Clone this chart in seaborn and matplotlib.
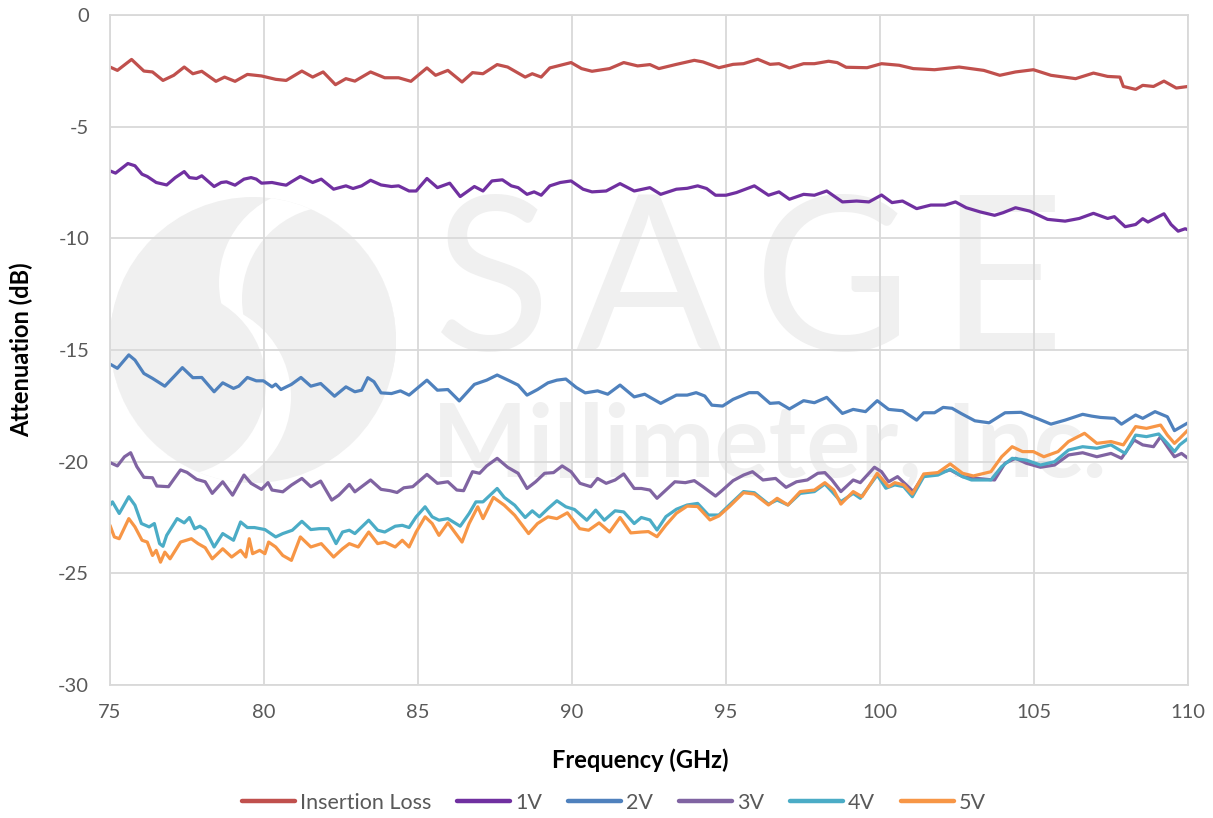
import matplotlib
matplotlib.use("Agg")
import matplotlib.pyplot as plt
import seaborn as sns
import pandas as pd
from matplotlib.patches import Circle
from matplotlib.ticker import MultipleLocator

# ---------------- data ----------------
series_names = ["Insertion Loss", "1V", "2V", "3V", "4V", "5V"]
series_colors = ["#C0504D", "#7030A0", "#4F81BD", "#8064A2", "#4BACC6", "#F79646"]
x_ticks = [75, 80, 85, 90, 95, 100, 105, 110]
y_ticks = [0, -5, -10, -15, -20, -25, -30]
x_label = "Frequency (GHz)"
y_label = "Attenuation (dB)"

insertion_loss = [
    (75.0, -2.33), (75.24, -2.48), (75.70, -1.99), (76.10, -2.51), (76.38, -2.55), (76.72, -2.93),
    (77.07, -2.70), (77.41, -2.33), (77.69, -2.63), (77.98, -2.52), (78.44, -2.97), (78.72, -2.78),
    (79.06, -2.97), (79.46, -2.66), (79.92, -2.73), (80.38, -2.88), (80.72, -2.93), (81.23, -2.51),
    (81.58, -2.78), (81.92, -2.55), (82.32, -3.12), (82.66, -2.85), (82.95, -2.96), (83.46, -2.55),
    (83.92, -2.81), (84.37, -2.81), (84.77, -2.97), (85.29, -2.37), (85.57, -2.70), (85.97, -2.48),
    (86.43, -3.00), (86.77, -2.58), (87.11, -2.63), (87.57, -2.22), (87.91, -2.33), (88.48, -2.78),
    (88.71, -2.63), (89.00, -2.78), (89.28, -2.37), (89.97, -2.13), (90.31, -2.40), (90.65, -2.52),
    (91.22, -2.40), (91.68, -2.13), (92.13, -2.28), (92.53, -2.22), (92.82, -2.40), (93.39, -2.21),
    (93.97, -2.03), (94.25, -2.10), (94.77, -2.36), (95.23, -2.21), (95.57, -2.18), (96.03, -1.98),
    (96.43, -2.21), (96.72, -2.18), (97.06, -2.37), (97.52, -2.18), (97.87, -2.18), (98.33, -2.07),
    (98.61, -2.13), (98.90, -2.34), (99.58, -2.36), (100.05, -2.18), (100.62, -2.25), (101.08, -2.40),
    (101.77, -2.45), (102.57, -2.33), (103.37, -2.48), (103.89, -2.70), (104.40, -2.55), (104.98, -2.45),
    (105.55, -2.70), (106.35, -2.85), (106.93, -2.60), (107.39, -2.75), (107.79, -2.78), (107.90, -3.20),
    (108.30, -3.33), (108.53, -3.15), (108.88, -3.20), (109.22, -2.96), (109.62, -3.27), (110.0, -3.20),
]

bias_1v = [
    (75.0, -6.98), (75.18, -7.08), (75.58, -6.65), (75.81, -6.75), (76.04, -7.13), (76.21, -7.23),
    (76.50, -7.50), (76.84, -7.61), (77.12, -7.28), (77.41, -7.01), (77.58, -7.28), (77.81, -7.32),
    (77.98, -7.20), (78.38, -7.68), (78.61, -7.50), (78.78, -7.47), (79.06, -7.62), (79.35, -7.35),
    (79.58, -7.28), (79.75, -7.35), (79.92, -7.53), (80.26, -7.50), (80.55, -7.58), (80.72, -7.62),
    (80.89, -7.47), (81.18, -7.23), (81.58, -7.50), (81.86, -7.35), (82.26, -7.80), (82.66, -7.65),
    (82.89, -7.77), (83.17, -7.65), (83.46, -7.40), (83.80, -7.61), (84.14, -7.68), (84.37, -7.65),
    (84.71, -7.88), (84.94, -7.88), (85.29, -7.32), (85.63, -7.73), (86.03, -7.53), (86.37, -8.13),
    (86.83, -7.68), (87.11, -7.88), (87.40, -7.43), (87.74, -7.38), (88.03, -7.65), (88.25, -7.73),
    (88.54, -8.03), (88.77, -7.92), (89.00, -8.07), (89.28, -7.65), (89.62, -7.50), (89.97, -7.43),
    (90.36, -7.80), (90.65, -7.92), (91.11, -7.88), (91.56, -7.55), (92.02, -7.88), (92.53, -7.73),
    (92.88, -8.03), (93.39, -7.80), (93.74, -7.76), (94.08, -7.65), (94.37, -7.77), (94.66, -8.07),
    (95.00, -8.07), (95.34, -7.95), (95.92, -7.65), (96.38, -8.07), (96.72, -7.92), (97.06, -8.25),
    (97.52, -8.03), (97.87, -8.07), (98.27, -7.88), (98.78, -8.37), (99.24, -8.33), (99.64, -8.37),
    (100.05, -8.06), (100.39, -8.40), (100.73, -8.33), (101.19, -8.67), (101.65, -8.51), (102.11, -8.51),
    (102.45, -8.37), (102.80, -8.63), (103.26, -8.82), (103.72, -8.97), (104.00, -8.85), (104.40, -8.63),
    (104.86, -8.78), (105.44, -9.15), (106.01, -9.23), (106.47, -9.11), (106.93, -8.88), (107.39, -9.11),
    (107.61, -9.03), (107.96, -9.48), (108.30, -9.38), (108.53, -9.12), (108.70, -9.27), (109.22, -8.90),
    (109.45, -9.38), (109.68, -9.68), (109.91, -9.57), (110.0, -9.62),
]

bias_2v = [
    (75.0, -15.63), (75.24, -15.82), (75.61, -15.22), (75.81, -15.45), (76.10, -16.05), (76.38, -16.27),
    (76.78, -16.62), (77.07, -16.20), (77.35, -15.79), (77.69, -16.24), (77.98, -16.23), (78.38, -16.87),
    (78.66, -16.47), (79.01, -16.72), (79.18, -16.62), (79.46, -16.23), (79.75, -16.38), (79.98, -16.38),
    (80.26, -16.65), (80.38, -16.53), (80.55, -16.77), (80.89, -16.54), (81.20, -16.23), (81.52, -16.62),
    (81.84, -16.50), (82.29, -17.07), (82.66, -16.65), (82.95, -16.87), (83.17, -16.80), (83.37, -16.24),
    (83.57, -16.42), (83.80, -16.92), (84.14, -16.95), (84.43, -16.83), (84.71, -17.02), (85.29, -16.35),
    (85.63, -16.80), (85.97, -16.77), (86.34, -17.28), (86.83, -16.54), (87.23, -16.35), (87.57, -16.12),
    (87.97, -16.38), (88.25, -16.57), (88.54, -17.02), (88.88, -16.77), (89.22, -16.47), (89.51, -16.35),
    (89.80, -16.30), (90.14, -16.68), (90.43, -16.92), (90.83, -16.83), (91.16, -16.98), (91.56, -16.57),
    (92.02, -17.10), (92.36, -16.98), (92.88, -17.39), (93.39, -17.02), (93.74, -17.02), (94.03, -16.91),
    (94.31, -17.06), (94.54, -17.47), (94.89, -17.51), (95.23, -17.21), (95.75, -16.91), (96.03, -16.91),
    (96.43, -17.39), (96.72, -17.36), (97.06, -17.64), (97.52, -17.27), (97.87, -17.36), (98.27, -17.12),
    (98.78, -17.84), (99.13, -17.66), (99.53, -17.76), (99.91, -17.27), (100.28, -17.66), (100.73, -17.72),
    (101.19, -18.14), (101.42, -17.81), (101.77, -17.81), (102.05, -17.57), (102.34, -17.61), (102.63, -17.84),
    (103.08, -18.17), (103.54, -18.26), (104.06, -17.81), (104.58, -17.79), (105.09, -18.06), (105.55, -18.32),
    (106.01, -18.14), (106.58, -17.88), (106.87, -17.96), (107.16, -18.02), (107.61, -18.06), (107.84, -18.32),
    (108.30, -17.91), (108.53, -18.06), (108.93, -17.76), (109.33, -17.99), (109.56, -18.61), (110.0, -18.26),
]

bias_3v = [
    (75.0, -20.04), (75.24, -20.19), (75.47, -19.78), (75.67, -19.60), (75.87, -20.22), (76.10, -20.70),
    (76.38, -20.72), (76.52, -21.09), (76.90, -21.12), (77.07, -20.79), (77.29, -20.37), (77.50, -20.48),
    (77.81, -20.79), (78.09, -20.90), (78.32, -21.42), (78.66, -20.90), (78.98, -21.50), (79.35, -20.60),
    (79.58, -20.97), (79.92, -21.24), (80.13, -20.94), (80.26, -21.27), (80.61, -21.35), (80.89, -21.05),
    (81.23, -20.75), (81.52, -21.12), (81.84, -20.87), (82.20, -21.72), (82.43, -21.50), (82.77, -21.02),
    (82.95, -21.35), (83.46, -20.82), (83.80, -21.24), (84.09, -21.30), (84.32, -21.38), (84.54, -21.17),
    (84.83, -21.12), (85.29, -20.57), (85.63, -20.97), (85.97, -20.90), (86.26, -21.27), (86.48, -21.30),
    (86.77, -20.45), (87.00, -20.52), (87.23, -20.19), (87.57, -19.85), (87.91, -20.25), (88.25, -20.52),
    (88.54, -21.20), (88.82, -20.90), (89.11, -20.52), (89.40, -20.49), (89.68, -20.19), (89.97, -20.45),
    (90.26, -20.97), (90.61, -21.12), (90.83, -20.75), (91.11, -20.97), (91.40, -20.82), (91.68, -20.55),
    (92.02, -21.20), (92.25, -21.20), (92.53, -21.27), (92.76, -21.64), (93.05, -21.27), (93.34, -20.90),
    (93.68, -20.94), (93.97, -20.85), (94.25, -21.12), (94.66, -21.54), (94.89, -21.27), (95.23, -20.85),
    (95.57, -20.60), (95.86, -20.45), (96.20, -20.82), (96.61, -20.75), (96.95, -21.15), (97.29, -20.90),
    (97.64, -20.82), (97.98, -20.52), (98.21, -20.49), (98.44, -20.82), (98.73, -21.34), (99.13, -20.82),
    (99.36, -20.94), (99.82, -20.25), (100.05, -20.45), (100.28, -20.90), (100.57, -20.67), (100.80, -20.97),
    (101.08, -21.34), (101.42, -20.60), (101.88, -20.52), (102.28, -20.37), (102.68, -20.67), (103.14, -20.75),
    (103.72, -20.82), (104.06, -20.07), (104.40, -19.85), (104.75, -20.07), (105.21, -20.25), (105.67, -20.15),
    (106.12, -19.70), (106.58, -19.60), (107.04, -19.78), (107.50, -19.63), (107.84, -19.85), (108.25, -19.03),
    (108.53, -19.25), (108.88, -19.33), (109.11, -18.88), (109.33, -19.33), (109.56, -19.78), (109.79, -19.63),
    (110.0, -19.85),
]

bias_4v = [
    (75.0, -21.95), (75.08, -21.80), (75.30, -22.32), (75.61, -21.57), (75.81, -21.95), (76.02, -22.77),
    (76.27, -22.92), (76.44, -22.77), (76.61, -23.67), (76.72, -23.79), (76.84, -23.30), (77.18, -22.55),
    (77.41, -22.74), (77.58, -22.50), (77.75, -23.00), (77.92, -22.89), (78.09, -23.04), (78.38, -23.82),
    (78.66, -23.22), (79.01, -23.52), (79.24, -22.70), (79.46, -22.95), (79.69, -22.95), (80.03, -23.04),
    (80.38, -23.37), (80.61, -23.22), (80.92, -23.07), (81.23, -22.67), (81.52, -23.04), (81.80, -23.00),
    (82.09, -23.00), (82.34, -23.67), (82.55, -23.15), (82.77, -23.07), (82.95, -23.22), (83.40, -22.62),
    (83.69, -23.07), (83.92, -23.15), (84.26, -22.89), (84.49, -22.85), (84.71, -22.95), (84.94, -22.47),
    (85.23, -22.02), (85.46, -22.47), (85.68, -22.62), (85.97, -22.55), (86.37, -22.89), (86.66, -22.32),
    (86.88, -21.80), (87.11, -21.80), (87.34, -21.50), (87.57, -21.20), (87.80, -21.60), (88.14, -21.95),
    (88.48, -22.50), (88.71, -22.20), (88.94, -22.47), (89.22, -22.10), (89.51, -21.75), (89.80, -22.02),
    (90.08, -22.14), (90.48, -22.62), (90.77, -22.17), (91.05, -22.62), (91.40, -22.20), (91.68, -22.25),
    (92.02, -22.77), (92.25, -22.50), (92.53, -22.61), (92.76, -23.06), (93.05, -22.46), (93.39, -22.13),
    (93.74, -21.94), (94.08, -21.87), (94.43, -22.39), (94.77, -22.39), (95.11, -21.94), (95.57, -21.34),
    (95.92, -21.39), (96.38, -21.90), (96.66, -21.72), (97.01, -21.94), (97.41, -21.42), (97.87, -21.34),
    (98.21, -21.00), (98.44, -21.34), (98.73, -21.79), (99.13, -21.42), (99.36, -21.64), (99.91, -20.60),
    (100.19, -21.19), (100.48, -21.04), (100.77, -21.12), (101.05, -21.57), (101.42, -20.67), (101.88, -20.60),
    (102.28, -20.34), (102.68, -20.67), (102.97, -20.82), (103.60, -20.82), (103.95, -20.22), (104.29, -19.85),
    (104.75, -19.93), (105.21, -20.15), (105.67, -20.00), (106.12, -19.48), (106.58, -19.33), (107.04, -19.40),
    (107.50, -19.25), (107.96, -19.63), (108.30, -18.81), (108.65, -18.88), (109.05, -18.76), (109.33, -19.18),
    (109.56, -19.55), (109.73, -19.25), (110.0, -18.96),
]

bias_5v = [
    (75.0, -22.85), (75.14, -23.37), (75.30, -23.45), (75.61, -22.55), (75.81, -22.92), (76.04, -23.52),
    (76.21, -23.60), (76.38, -24.20), (76.50, -23.97), (76.64, -24.50), (76.78, -24.05), (76.95, -24.35),
    (77.29, -23.60), (77.64, -23.45), (77.86, -23.67), (78.09, -23.85), (78.32, -24.35), (78.66, -23.90),
    (78.95, -24.27), (79.24, -23.97), (79.41, -24.27), (79.52, -23.45), (79.63, -24.12), (79.86, -23.97),
    (80.03, -24.12), (80.15, -23.60), (80.38, -23.82), (80.61, -24.20), (80.89, -24.42), (81.18, -23.37),
    (81.52, -23.82), (81.86, -23.67), (82.26, -24.27), (82.55, -23.90), (82.77, -23.67), (83.06, -23.82),
    (83.40, -23.15), (83.69, -23.67), (83.92, -23.60), (84.26, -23.82), (84.49, -23.52), (84.71, -23.82),
    (84.94, -23.15), (85.23, -22.47), (85.46, -22.77), (85.68, -23.30), (85.97, -22.74), (86.43, -23.60),
    (86.66, -22.77), (86.94, -22.02), (87.11, -22.55), (87.45, -21.60), (87.80, -21.95), (88.14, -22.40),
    (88.59, -23.22), (88.88, -22.77), (89.22, -22.47), (89.51, -22.55), (89.85, -22.29), (90.25, -23.00),
    (90.54, -23.07), (90.88, -22.74), (91.22, -23.15), (91.56, -22.50), (91.91, -23.19), (92.25, -23.15),
    (92.48, -23.13), (92.76, -23.36), (93.05, -22.84), (93.39, -22.31), (93.74, -21.99), (94.08, -22.01),
    (94.48, -22.61), (94.77, -22.43), (95.11, -22.01), (95.57, -21.39), (95.92, -21.45), (96.38, -21.94),
    (96.66, -21.64), (97.01, -21.94), (97.41, -21.34), (97.87, -21.27), (98.21, -20.94), (98.50, -21.27),
    (98.73, -21.90), (99.13, -21.34), (99.42, -21.57), (99.91, -20.52), (100.28, -21.12), (100.48, -20.94),
    (100.77, -21.04), (101.05, -21.45), (101.42, -20.55), (101.88, -20.49), (102.28, -20.10), (102.68, -20.52),
    (103.03, -20.64), (103.60, -20.45), (103.95, -19.78), (104.29, -19.33), (104.63, -19.55), (104.98, -19.55),
    (105.32, -19.78), (105.78, -19.55), (106.12, -19.10), (106.64, -18.73), (107.04, -19.18), (107.50, -19.10),
    (107.90, -19.25), (108.30, -18.43), (108.65, -18.51), (109.11, -18.36), (109.33, -18.81), (109.56, -19.18),
    (109.73, -18.96), (110.0, -18.58),
]

all_series = [insertion_loss, bias_1v, bias_2v, bias_3v, bias_4v, bias_5v]

# ---------------- style ----------------
sns.set_theme(style="white")
plt.rcParams["font.family"] = ["Lato", "DejaVu Sans"]
plt.rcParams["axes.unicode_minus"] = False

W, H = 1213, 818
def fx(px):
    return px / W
def fy(py):
    return 1 - py / H

frames = []
for name, pts in zip(series_names, all_series):
    d = pd.DataFrame(pts, columns=[x_label, y_label])
    d["Series"] = name
    frames.append(d)
df = pd.concat(frames, ignore_index=True)

fig = plt.figure(figsize=(W / 100, H / 100), dpi=100)
fig.patch.set_facecolor("white")

# ---------------- watermark (decoration, behind the plot) ----------------
wm = "#F0F0F0"
logo_ax = fig.add_axes([fx(103), fy(490), fx(300), 300 / H], zorder=-2)
logo_ax.set_xlim(0, 300)
logo_ax.set_ylim(300, 0)
logo_ax.axis("off")
outer = Circle((150, 150), 143, color=wm, lw=0)
logo_ax.add_patch(outer)
for (cx, cy, r, col) in [(211, 93, 95, "white"), (232, 109, 93, wm),
                         (93, 207, 95, "white"), (70, 193, 93, wm)]:
    c = Circle((cx, cy), r, color=col, lw=0)
    logo_ax.add_patch(c)
    c.set_clip_path(outer)

for letter, cx in zip("SAGE", [492, 648, 833, 1001]):
    fig.text(fx(cx), fy(350), letter, fontsize=155, color=wm, ha="center",
             va="baseline", zorder=-1, family=["Lato", "DejaVu Sans"])
fig.text(fx(432), fy(476), "Millimeter, Inc.", fontsize=73, color=wm, ha="left",
         va="baseline", zorder=-1, fontweight="bold",
         family=["Lato", "DejaVu Sans"])

# ---------------- main plot ----------------
ax = fig.add_axes([fx(110), fy(685), 1078 / W, 670 / H], zorder=0)
ax.set_facecolor("none")

sns.lineplot(data=df, x=x_label, y=y_label, hue="Series", hue_order=series_names,
             palette=series_colors, estimator=None, sort=False, linewidth=2.3, ax=ax)

ax.set_xlim(x_ticks[0], x_ticks[-1])
ax.set_ylim(y_ticks[-1], y_ticks[0])
ax.set_xticks(x_ticks)
ax.set_yticks(y_ticks)
ax.xaxis.set_minor_locator(MultipleLocator(1))
ax.yaxis.set_minor_locator(MultipleLocator(1))
ax.grid(which="major", color="#D9D9D9", linewidth=1.3)
ax.set_axisbelow(True)
for s in ax.spines.values():
    s.set_color("#D9D9D9")
    s.set_linewidth(1.3)

ax.tick_params(which="both", direction="in", color="#BFBFBF", labelcolor="#595959",
               labelsize=14.5, width=1)
ax.tick_params(which="major", length=5)
ax.tick_params(which="minor", length=5)
ax.tick_params(axis="x", which="both", pad=14)
ax.tick_params(axis="y", which="both", pad=15)

ax.set_xlabel(x_label, fontsize=17, fontweight="bold", color="black")
ax.set_ylabel(y_label, fontsize=17, fontweight="bold", color="black")
ax.xaxis.set_label_coords(0.492, -0.094)
ax.yaxis.set_label_coords(-0.071, 0.5)

handles, labels = ax.get_legend_handles_labels()
if ax.get_legend() is not None:
    ax.get_legend().remove()
leg = fig.legend(handles, labels, loc="center", bbox_to_anchor=(fx(614), fy(803)),
                 ncol=6, frameon=False, fontsize=15.5, handlelength=2.45,
                 handletextpad=0.25, columnspacing=1.2, labelcolor="#595959")
for h in leg.get_lines():
    h.set_linewidth(3.2)

fig.savefig("out.png", dpi=100)
